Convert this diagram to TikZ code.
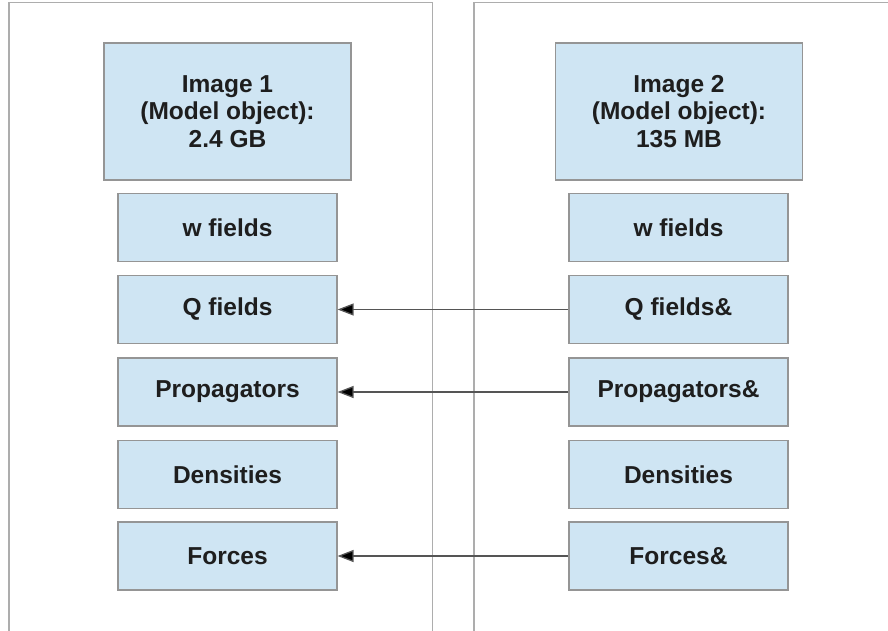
\documentclass[tikz,border=0pt]{standalone}
\usepackage{fontspec}
\setmainfont{Liberation Sans}
\usetikzlibrary{arrows.meta}
\definecolor{panelline}{HTML}{ADADAD}
\definecolor{boxfill}{HTML}{CFE5F3}
\definecolor{boxline}{HTML}{959595}
\definecolor{txt}{HTML}{1E1E1E}
\definecolor{linkline}{HTML}{555555}
\begin{document}
\begin{tikzpicture}[x=1pt,y=-1pt,
  panel/.style={draw=panelline,line width=1.2pt},
  bigbox/.style={draw=boxline,fill=boxfill,line width=1.2pt,minimum width=247pt,minimum height=137pt,
    align=center,text=txt,font=\fontsize{24.5}{27.8}\selectfont\bfseries,inner sep=0pt},
  fieldbox/.style={draw=boxline,fill=boxfill,line width=1.2pt,minimum width=219pt,minimum height=68pt,
    text=txt,font=\fontsize{24.5}{27.8}\selectfont\bfseries,inner sep=0pt},
  link/.style={draw=linkline,line width=1.3pt,-{Triangle[length=16pt,width=12pt,fill=black]}}]
\useasboundingbox (0,0) rectangle (888,631);
% the two memory images
\draw[panel] (9,640) -- (9,2.7) -- (432.5,2.7) -- (432.5,640);
\draw[panel] (474,640) -- (474,2.7) -- (900,2.7);
% image 1
\node[bigbox] (img1) at (227.5,111.5) {Image 1\\(Model object):\\2.4 GB};
\node[fieldbox] (w1) at (227.5,227.5) {w fields};
\node[fieldbox] (q1) at (227.5,309.5) {Q fields};
\node[fieldbox] (p1) at (227.5,392) {Propagators};
\node[fieldbox] (d1) at (227.5,474.5) {Densities};
\node[fieldbox] (f1) at (227.5,556) {Forces};
% image 2
\node[bigbox] (img2) at (679,111.5) {Image 2\\(Model object):\\135 MB};
\node[fieldbox] (w2) at (678.5,227.5) {w fields};
\node[fieldbox] (q2) at (678.5,309.5) {Q fields\&};
\node[fieldbox] (p2) at (678.5,392) {Propagators\&};
\node[fieldbox] (d2) at (678.5,474.5) {Densities};
\node[fieldbox] (f2) at (678.5,556) {Forces\&};
% shared references
\draw[link] (q2.west) -- (q1.east);
\draw[link] (p2.west) -- (p1.east);
\draw[link] (f2.west) -- (f1.east);
\end{tikzpicture}
\end{document}
